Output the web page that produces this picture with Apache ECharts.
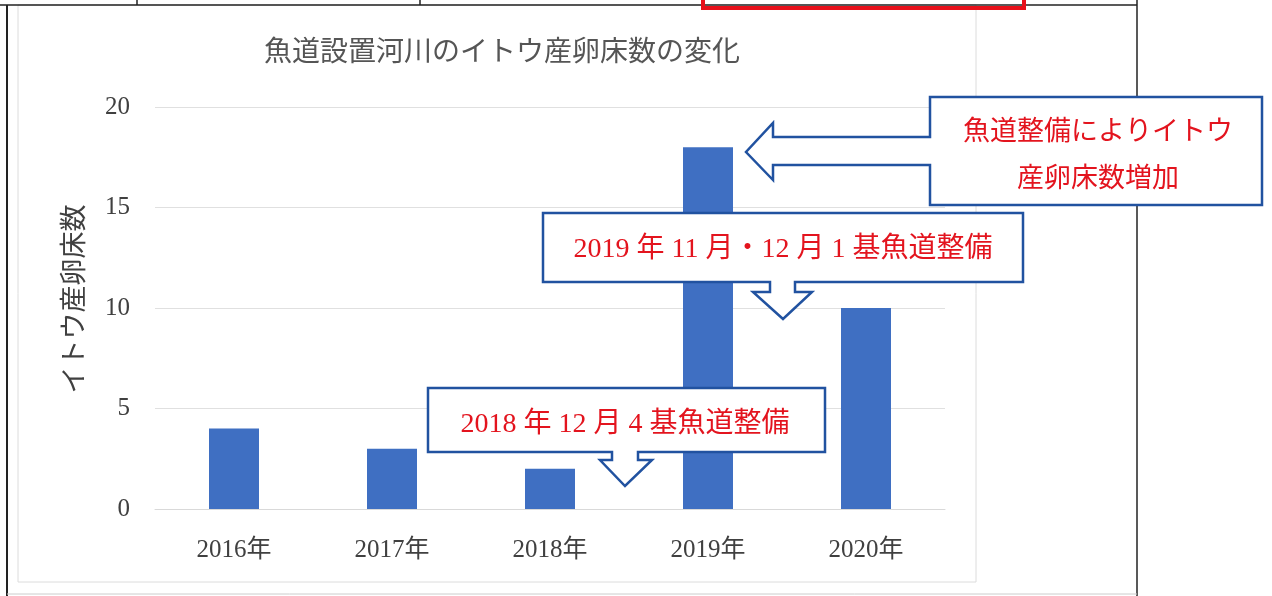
<!DOCTYPE html>
<html>
<head>
<meta charset="utf-8">
<script src="https://cdn.jsdelivr.net/npm/echarts@6/dist/echarts.min.js"></script>
<style>
  html, body { margin: 0; padding: 0; background: #fff; }
  #chart { width: 1272px; height: 596px; }
</style>
</head>
<body>
<div id="chart"></div>
<script>
// データ
const years = ['2016年', '2017年', '2018年', '2019年', '2020年']
const redds = [4, 3, 2, 18, 10]
const yMin = 0
const yMax = 20
const yStep = 5

const titleText = '魚道設置河川のイトウ産卵床数の変化'
const yName = 'イトウ産卵床数'
const note1 = ['魚道整備によりイトウ', '産卵床数増加']
const note2 = '2019 年 11 月・12 月 1 基魚道整備'
const note3 = '2018 年 12 月 4 基魚道整備'

const FONT = '"Liberation Serif", "Noto Sans CJK JP", serif'
const BLUE = '#2152a0'
const RED = '#e3141e'

// 吹き出し（矩形＋矢印）
function callout(points) {
    return {
        type: 'polygon',
        z: 20,
        shape: { points: points },
        style: { fill: '#fff', stroke: BLUE, lineWidth: 2.5 }
    }
}
function label(text, x, y, size) {
    return {
        type: 'text',
        z: 21,
        x: x,
        y: y,
        style: {
            text: text,
            fill: RED,
            font: size + 'px ' + FONT,
            align: 'center',
            verticalAlign: 'middle'
        }
    }
}
function line(x1, y1, x2, y2, color, w) {
    return {
        type: 'line',
        z: 1,
        shape: { x1: x1, y1: y1, x2: x2, y2: y2 },
        style: { stroke: color, lineWidth: w }
    }
}

const chart = echarts.init(document.getElementById('chart'))
chart.setOption({
    backgroundColor: '#fff',
    animation: false,
    title: {
        text: titleText,
        left: 497,
        top: 35,
        textAlign: 'center',
        textStyle: { fontFamily: FONT, fontSize: 28, fontWeight: 'normal', color: '#555' }
    },
    grid: { left: 155, right: 327, top: 107, bottom: 87 },
    xAxis: {
        type: 'category',
        data: years,
        axisLine: { lineStyle: { color: '#d9d9d9' } },
        axisTick: { show: false },
        axisLabel: { margin: 29, fontFamily: FONT, fontSize: 25, color: '#404040' }
    },
    yAxis: {
        type: 'value',
        min: yMin,
        max: yMax,
        interval: yStep,
        name: yName,
        nameLocation: 'middle',
        nameGap: 66,
        nameRotate: 90,
        nameTextStyle: { fontFamily: FONT, fontSize: 27, color: '#404040', padding: [0, 0, 0, 18] },
        axisLine: { show: false },
        axisTick: { show: false },
        axisLabel: { margin: 25, fontFamily: FONT, fontSize: 25, color: '#404040' },
        splitLine: { lineStyle: { color: '#e0e0e0' } }
    },
    series: [{
        type: 'bar',
        data: redds,
        barWidth: 50,
        itemStyle: { color: '#3f6fc2' }
    }],
    graphic: [
        // 外枠
        line(0, 5, 1137, 5, '#222', 1.5),
        line(7, 5, 7, 596, '#222', 2),
        line(1137, 0, 1137, 596, '#222', 1.5),
        line(137, 0, 137, 5, '#222', 1.5),
        line(420, 0, 420, 5, '#222', 1.5),
        line(7, 594, 1137, 594, '#ccc', 1),
        {
            type: 'rect', z: 2,
            shape: { x: 703, y: -6, width: 321, height: 14 },
            style: { fill: 'none', stroke: '#e8101a', lineWidth: 4 }
        },
        // グラフ枠
        {
            type: 'rect', z: 0,
            shape: { x: 18, y: 5, width: 958, height: 577 },
            style: { fill: 'none', stroke: '#dcdcdc', lineWidth: 1 }
        },
        callout([[930, 97], [1262, 97], [1262, 205], [930, 205], [930, 165], [773, 165],
                 [773, 180], [746, 152], [773, 123], [773, 137], [930, 137]]),
        label(note1[0], 1098, 133, 27),
        label(note1[1], 1098, 180, 27),
        callout([[543, 213], [1023, 213], [1023, 282], [795, 282], [795, 292], [812, 292],
                 [783, 319], [753, 292], [770, 292], [770, 282], [543, 282]]),
        label(note2, 783, 250, 28),
        callout([[428, 388], [825, 388], [825, 452], [638, 452], [638, 460], [652, 460],
                 [625, 486], [600, 460], [612, 460], [612, 452], [428, 452]]),
        label(note3, 625, 425, 28)
    ]
})
</script>
</body>
</html>
